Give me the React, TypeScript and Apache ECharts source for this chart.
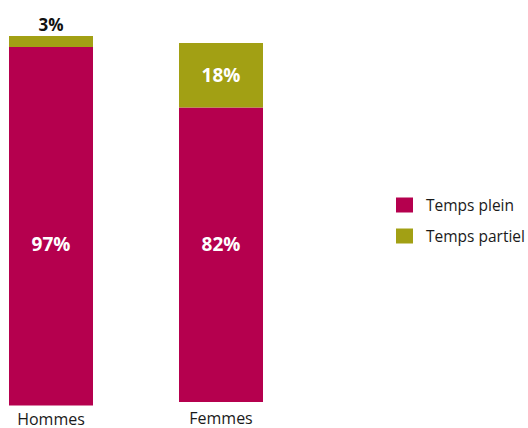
import React, { useEffect, useRef } from "react";
import * as echarts from "echarts";

const categories = ["Hommes", "Femmes"];
const tempsPlein = [97, 82];
const tempsPartiel = [3, 18];
const seriesNames = ["Temps plein", "Temps partiel"];

const MAGENTA = "#B5004E";
const OLIVE = "#A2A014";
const FONT = "Open Sans";

export default function App() {
  const ref = useRef<HTMLDivElement>(null);
  useEffect(() => {
    if (!ref.current) return;
    const chart = echarts.init(ref.current, undefined, { renderer: "svg" });
    const grids = [
      { left: 9, top: 36, width: 84, height: 369.5 },
      { left: 179, top: 43, width: 84, height: 359 },
    ];
    const labelMargins = [5, 8];
    const pleinOffsets = [18, -11];
    const series: any[] = [];
    categories.forEach((cat, i) => {
      series.push({
        name: seriesNames[0],
        type: "bar",
        stack: "s" + i,
        xAxisIndex: i,
        yAxisIndex: i,
        barWidth: "100%",
        itemStyle: { color: MAGENTA },
        data: [tempsPlein[i]],
        label: {
          show: true,
          position: "inside",
          offset: [0, pleinOffsets[i]],
          formatter: "{c}%",
          color: "#fff",
          fontWeight: "bold",
          fontSize: 19,
          fontFamily: FONT,
        },
      });
      const small = tempsPartiel[i] < 8;
      series.push({
        name: seriesNames[1],
        type: "bar",
        stack: "s" + i,
        xAxisIndex: i,
        yAxisIndex: i,
        barWidth: "100%",
        itemStyle: { color: OLIVE },
        data: [tempsPartiel[i]],
        label: {
          show: true,
          position: small ? "top" : "inside",
          distance: 3,
          formatter: "{c}%",
          color: small ? "#111" : "#fff",
          fontWeight: "bold",
          fontSize: small ? 17 : 19,
          fontFamily: FONT,
        },
      });
    });
    chart.setOption({
      animation: false,
      grid: grids,
      legend: {
        data: seriesNames,
        orient: "vertical",
        left: 391,
        top: 192,
        itemWidth: 17,
        itemHeight: 15,
        itemGap: 15,
        icon: "rect",
        textStyle: {
          fontFamily: FONT,
          fontSize: 15.5,
          color: "#1a1a1a",
          padding: [0, 0, 0, 8],
        },
      },
      xAxis: categories.map((c, i) => ({
        type: "category",
        gridIndex: i,
        data: [c],
        axisLine: { show: false },
        axisTick: { show: false },
        axisLabel: {
          margin: labelMargins[i],
          fontFamily: FONT,
          fontSize: 16,
          color: "#1a1a1a",
        },
      })),
      yAxis: categories.map((c, i) => ({
        type: "value",
        gridIndex: i,
        min: 0,
        max: 100,
        show: false,
        splitLine: { show: false },
      })),
      series,
    });
    return () => chart.dispose();
  }, []);
  return <div ref={ref} style={{ width: 528, height: 428, position: "absolute", left: 0, top: 0 }} />;
}
